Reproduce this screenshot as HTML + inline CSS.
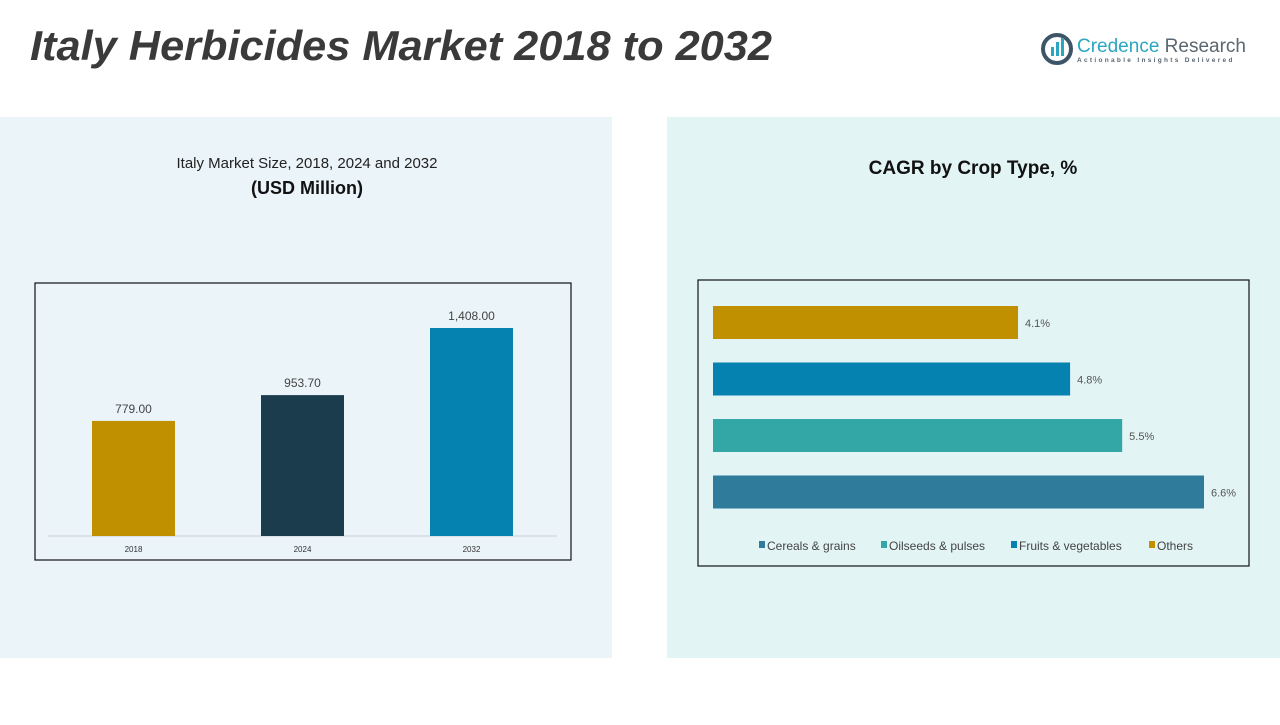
<!DOCTYPE html>
<html><head><meta charset="utf-8"><style>
body{margin:0;width:1280px;height:720px;overflow:hidden;background:#fff;font-family:"Liberation Sans",sans-serif}
</style></head><body>
<svg width="1280" height="720" xmlns="http://www.w3.org/2000/svg" font-family="Liberation Sans, sans-serif">
<rect x="0" y="117" width="612" height="541" fill="#eaf4f9"/>
<rect x="667" y="117" width="613" height="541" fill="#e3f4f4"/>
<text x="30" y="60" font-size="42" font-weight="bold" font-style="italic" fill="#3a3a3a" textLength="742" lengthAdjust="spacingAndGlyphs">Italy Herbicides Market 2018 to 2032</text>
<g>
<circle cx="1057" cy="49" r="14" fill="none" stroke="#3d5566" stroke-width="4"/>
<rect x="1051" y="47" width="3" height="9" fill="#2aa6c1"/><rect x="1056" y="42" width="3" height="14" fill="#2aa6c1"/><rect x="1061" y="38" width="3" height="18" fill="#2aa6c1"/>
<text x="1077" y="52" font-size="19" fill="#2aa6c1">Credence <tspan fill="#5a6670">Research</tspan></text>
<text x="1077" y="62" font-size="6.5" fill="#5a6670" letter-spacing="2.3" font-weight="bold">Actionable Insights Delivered</text>
</g>
<text x="307" y="168" font-size="15" text-anchor="middle" fill="#222">Italy Market Size, 2018, 2024 and 2032</text>
<text x="307" y="194" font-size="18" font-weight="bold" text-anchor="middle" fill="#111">(USD Million)</text>
<text x="973" y="174" font-size="19" font-weight="bold" text-anchor="middle" fill="#111">CAGR by Crop Type, %</text>
<rect x="35" y="283" width="536" height="277" fill="none" stroke="#111" stroke-width="1.2"/>
<line x1="48" y1="536" x2="557" y2="536" stroke="#ccd"/>
<g id="bars"></g>
<rect x="698" y="280" width="551" height="286" fill="none" stroke="#111" stroke-width="1.2"/>
<g id="hbars"></g>
<g id="legend"></g>
</svg>
<script>
const years=["2018","2024","2032"];
const sizes=[779.00,953.70,1408.00];
const sizeLabels=["779.00","953.70","1,408.00"];
const crops=["Others","Fruits & vegetables","Oilseeds & pulses","Cereals & grains"];
const cagr=[4.1,4.8,5.5,6.6];
const cagrLabels=["4.1%","4.8%","5.5%","6.6%"];
const NS="http://www.w3.org/2000/svg";
function mk(t,a,p){const e=document.createElementNS(NS,t);for(const k in a)e.setAttribute(k,a[k]);p.appendChild(e);return e;}
const barColors=["#c09000","#1a3c4c","#0582b0"];
const yScale=v=>536-v*(208/1408);
const xBand=i=>92+i*169;
const g=document.getElementById('bars');
years.forEach((y,i)=>{
 const r=mk('rect',{x:xBand(i),y:yScale(sizes[i]),width:83,height:536-yScale(sizes[i]),fill:barColors[i]},g);
 
 
 const t=mk('text',{x:xBand(i)+41.5,y:yScale(sizes[i])-8,'font-size':12,'text-anchor':'middle',fill:'#444'},g);t.textContent=sizeLabels[i];
 
 
 const l=mk('text',{x:xBand(i)+41.5,y:552,'font-size':8,'text-anchor':'middle',fill:'#333'},g);l.textContent=y;
 
 
});
const hColors=["#c09000","#0582b0","#33a6a6","#2e7b9c"];
const xS=v=>713+v*(491/6.6);
const yRow=i=>306+i*56.5;
const h=document.getElementById('hbars');
crops.forEach((c,i)=>{
 const r=mk('rect',{x:713,y:yRow(i),width:xS(cagr[i])-713,height:33,fill:hColors[i]},h);
 
 
 const t=mk('text',{x:xS(cagr[i])+7,y:yRow(i)+21,'font-size':11,fill:'#555'},h);t.textContent=cagrLabels[i];
 
 
});
const lg=document.getElementById('legend');
const legOrder=[3,2,1,0];const legX=[759,881,1011,1149];
legOrder.forEach((k,j)=>{
 const e=mk('g',{},lg);
 
 
 mk('rect',{x:legX[j],y:541,width:6,height:7,fill:hColors[k]},e);
 const t=mk('text',{x:legX[j]+8,y:550,'font-size':12,fill:'#444'},e);t.textContent=crops[k];
});
</script>
</body></html>
